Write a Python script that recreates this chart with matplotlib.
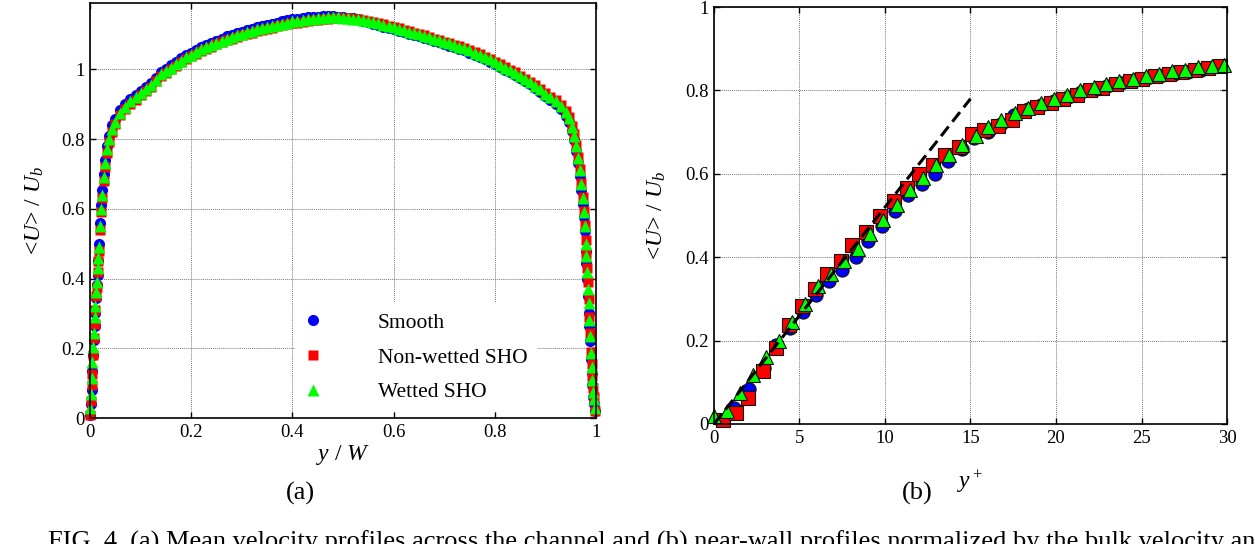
import matplotlib
matplotlib.use("Agg")
import matplotlib.pyplot as plt
from matplotlib.ticker import FuncFormatter, MultipleLocator

# ---- (a) mean velocity across the channel ----
y_over_w = [0.000, 0.0015, 0.003, 0.0045, 0.006, 0.0075, 0.009, 0.0105, 0.012, 0.0135,
            0.015, 0.0165, 0.018, 0.020, 0.022, 0.024, 0.027, 0.030, 0.034, 0.038,
            0.043, 0.050, 0.060, 0.070, 0.080, 0.090,
            0.10, 0.11, 0.12, 0.13, 0.14, 0.15, 0.16, 0.17, 0.18, 0.19,
            0.20, 0.21, 0.22, 0.23, 0.24, 0.25, 0.26, 0.27, 0.28, 0.29,
            0.30, 0.31, 0.32, 0.33, 0.34, 0.35, 0.36, 0.37, 0.38, 0.39,
            0.40, 0.41, 0.42, 0.43, 0.44, 0.45, 0.46, 0.47, 0.48, 0.49,
            0.50, 0.51, 0.52, 0.53, 0.54, 0.55, 0.56, 0.57, 0.58, 0.59,
            0.60, 0.61, 0.62, 0.63, 0.64, 0.65, 0.66, 0.67, 0.68, 0.69,
            0.70, 0.71, 0.72, 0.73, 0.74, 0.75, 0.76, 0.77, 0.78, 0.79,
            0.80, 0.81, 0.82, 0.83, 0.84, 0.85, 0.86, 0.87, 0.88, 0.89,
            0.90,
            0.91, 0.92, 0.93, 0.94, 0.947, 0.953, 0.957, 0.961, 0.965, 0.968,
            0.971, 0.974, 0.976, 0.978,
            0.9795, 0.981, 0.9825, 0.984, 0.9855, 0.987, 0.9885, 0.990, 0.9915, 0.993,
            0.9945, 0.996, 0.9975]

u_smooth = [0.01, 0.04, 0.08, 0.135, 0.18, 0.225, 0.265, 0.30, 0.345, 0.38,
            0.41, 0.45, 0.50, 0.56, 0.61, 0.655, 0.70, 0.74, 0.78, 0.81,
            0.84, 0.858, 0.882, 0.90, 0.914, 0.926,
            0.938, 0.95, 0.961, 0.976, 0.991, 1.001, 1.011, 1.021, 1.031, 1.04,
            1.048, 1.056, 1.063, 1.07, 1.076, 1.082, 1.088, 1.094, 1.099, 1.104,
            1.108, 1.112, 1.116, 1.12, 1.123, 1.127, 1.13, 1.134, 1.137, 1.14,
            1.143, 1.145, 1.147, 1.149, 1.15, 1.151, 1.152, 1.152, 1.152, 1.151,
            1.15, 1.148, 1.146, 1.143, 1.139, 1.135, 1.131, 1.127, 1.122, 1.118,
            1.114, 1.11, 1.106, 1.102, 1.098, 1.094, 1.09, 1.086, 1.081, 1.077,
            1.072, 1.068, 1.063, 1.059, 1.054, 1.048, 1.042, 1.036, 1.029, 1.022,
            1.014, 1.007, 0.999, 0.992, 0.984, 0.975, 0.966, 0.957, 0.947, 0.936,
            0.924,
            0.912, 0.90, 0.885, 0.867, 0.848, 0.822, 0.797, 0.765, 0.73, 0.695,
            0.655, 0.615, 0.575, 0.535,
            0.48, 0.445, 0.40, 0.35, 0.30, 0.265, 0.22, 0.17, 0.13, 0.095,
            0.06, 0.04, 0.02]

u_nonwetted = [0.01, 0.05, 0.095, 0.125, 0.18, 0.23, 0.27, 0.31, 0.35, 0.375,
               0.42, 0.45, 0.48, 0.54, 0.59, 0.63, 0.68, 0.72, 0.76, 0.79,
               0.82, 0.843, 0.868, 0.886, 0.901, 0.913,
               0.927, 0.939, 0.95, 0.965, 0.98, 0.99, 1.0, 1.01, 1.02, 1.029,
               1.037, 1.045, 1.052, 1.059, 1.065, 1.071, 1.077, 1.083, 1.088, 1.093,
               1.097, 1.101, 1.105, 1.109, 1.112, 1.116, 1.119, 1.123, 1.126, 1.129,
               1.132, 1.134, 1.136, 1.138, 1.14, 1.142, 1.144, 1.145, 1.146, 1.146,
               1.148, 1.147, 1.145, 1.143, 1.14, 1.138, 1.136, 1.133, 1.129, 1.125,
               1.121, 1.117, 1.113, 1.109, 1.105, 1.101, 1.097, 1.093, 1.088, 1.084,
               1.079, 1.075, 1.07, 1.066, 1.061, 1.055, 1.049, 1.043, 1.036, 1.029,
               1.021, 1.014, 1.006, 0.999, 0.991, 0.982, 0.973, 0.964, 0.954, 0.943,
               0.931,
               0.921, 0.911, 0.897, 0.88, 0.862, 0.838, 0.813, 0.783, 0.748, 0.713,
               0.673, 0.633, 0.593, 0.553,
               0.51, 0.47, 0.43, 0.39, 0.34, 0.29, 0.245, 0.19, 0.155, 0.12,
               0.085, 0.06, 0.02]

u_wetted = [0.03, 0.07, 0.115, 0.16, 0.205, 0.245, 0.29, 0.32, 0.36, 0.39,
            0.43, 0.46, 0.49, 0.55, 0.60, 0.64, 0.69, 0.73, 0.77, 0.80,
            0.83, 0.85, 0.875, 0.893, 0.908, 0.92,
            0.932, 0.944, 0.955, 0.97, 0.985, 0.995, 1.005, 1.015, 1.025, 1.034,
            1.042, 1.05, 1.057, 1.064, 1.07, 1.076, 1.082, 1.088, 1.093, 1.098,
            1.102, 1.106, 1.11, 1.114, 1.117, 1.121, 1.124, 1.128, 1.131, 1.134,
            1.137, 1.139, 1.141, 1.143, 1.145, 1.147, 1.148, 1.149, 1.149, 1.149,
            1.148, 1.147, 1.145, 1.143, 1.14, 1.138, 1.135, 1.132, 1.128, 1.124,
            1.12, 1.116, 1.112, 1.108, 1.104, 1.1, 1.096, 1.092, 1.087, 1.083,
            1.078, 1.074, 1.069, 1.065, 1.06, 1.054, 1.048, 1.042, 1.035, 1.028,
            1.02, 1.013, 1.005, 0.998, 0.99, 0.981, 0.972, 0.963, 0.953, 0.942,
            0.93,
            0.92, 0.91, 0.895, 0.877, 0.86, 0.835, 0.81, 0.78, 0.745, 0.71,
            0.67, 0.63, 0.59, 0.55,
            0.50, 0.465, 0.42, 0.37, 0.33, 0.28, 0.235, 0.185, 0.145, 0.11,
            0.075, 0.055, 0.03]

# ---- (b) near-wall profile in wall units ----
yplus_smooth = [0.4, 1.2, 2.05, 2.9, 3.65, 4.45, 5.2, 5.95, 6.7, 7.5,
                8.3, 9.0, 9.8, 10.6, 11.35, 12.15, 12.9, 13.7, 14.5, 15.2,
                16.0, 16.8, 17.55, 18.35, 19.1, 19.9, 20.7, 21.45, 22.25, 23.0,
                23.8, 24.6, 25.35, 26.1, 26.9, 27.7, 28.45, 29.2]
uplus_smooth = [0.01, 0.039, 0.084, 0.135, 0.19, 0.23, 0.268, 0.31, 0.343, 0.37,
                0.40, 0.44, 0.475, 0.51, 0.55, 0.575, 0.60, 0.63, 0.66, 0.685,
                0.70, 0.72, 0.74, 0.755, 0.765, 0.775, 0.785, 0.795, 0.80, 0.81,
                0.818, 0.825, 0.83, 0.835, 0.84, 0.845, 0.85, 0.855]

yplus_nonwetted = [0.55, 1.3, 2.0, 2.85, 3.6, 4.4, 5.15, 5.9, 6.6, 7.4,
                   8.1, 8.9, 9.7, 10.5, 11.3, 12.0, 12.8, 13.5, 14.3, 15.1,
                   15.8, 16.6, 17.4, 18.1, 18.9, 19.7, 20.4, 21.2, 22.0, 22.7,
                   23.5, 24.3, 25.0, 25.8, 26.6, 27.3, 28.1, 28.9, 29.6]
uplus_nonwetted = [0.01, 0.026, 0.063, 0.128, 0.183, 0.238, 0.282, 0.323, 0.36, 0.39,
                   0.43, 0.46, 0.50, 0.535, 0.566, 0.60, 0.62, 0.645, 0.665, 0.695,
                   0.705, 0.715, 0.73, 0.75, 0.76, 0.77, 0.78, 0.79, 0.80, 0.806,
                   0.815, 0.823, 0.827, 0.835, 0.84, 0.845, 0.85, 0.853, 0.858]

yplus_wetted = [0.0, 0.75, 1.5, 2.3, 3.05, 3.8, 4.55, 5.35, 6.1, 6.85,
                7.6, 8.4, 9.15, 9.9, 10.7, 11.45, 12.2, 13.0, 13.75, 14.5,
                15.3, 16.05, 16.8, 17.6, 18.35, 19.1, 19.9, 20.65, 21.4, 22.2,
                22.95, 23.7, 24.5, 25.25, 26.0, 26.8, 27.55, 28.3, 29.1, 29.85]
uplus_wetted = [0.02, 0.03, 0.075, 0.118, 0.16, 0.20, 0.245, 0.287, 0.33, 0.36,
                0.39, 0.42, 0.455, 0.49, 0.525, 0.56, 0.59, 0.62, 0.645, 0.668,
                0.69, 0.712, 0.73, 0.745, 0.758, 0.77, 0.78, 0.79, 0.80, 0.807,
                0.815, 0.822, 0.828, 0.834, 0.84, 0.846, 0.85, 0.855, 0.859, 0.862]

# viscous sublayer line
viscous_yplus = [0.0, 15.0]
viscous_u = [0.0, 0.78]

labels = ["Smooth", "Non-wetted SHO", "Wetted SHO"]
caption = ("FIG. 4. (a) Mean velocity profiles across the channel and (b) near-wall "
           "profiles normalized by the bulk velocity and wall units")

plt.rcParams["font.family"] = ["Liberation Serif", "DejaVu Serif"]
plt.rcParams["mathtext.fontset"] = "custom"
plt.rcParams["mathtext.rm"] = "Liberation Serif"
plt.rcParams["mathtext.it"] = "Liberation Serif:italic"

fig = plt.figure(figsize=(12.55, 5.44), dpi=100)
ax1 = fig.add_axes([0.0717, 0.2316, 0.4032, 0.7629])
ax2 = fig.add_axes([0.5689, 0.2206, 0.4088, 0.7665])

fmt = FuncFormatter(lambda v, p: f"{v:g}")


def style_axis(ax):
    ax.set_axisbelow(True)
    ax.grid(True, color="#7a7a7a", linestyle=(0, (1, 1)), linewidth=0.7)
    ax.tick_params(direction="in", top=True, right=True, length=4, width=1,
                   labelsize=13.5, pad=4)
    for s in ax.spines.values():
        s.set_linewidth(1.2)
    ax.xaxis.set_major_formatter(fmt)
    ax.yaxis.set_major_formatter(fmt)


# left panel
ax1.plot(y_over_w, u_smooth, "o", color="#0000ff", ms=8, mec="none",
         label=labels[0], clip_on=False)
ax1.plot(y_over_w, u_nonwetted, "s", color="#ff0000", ms=6.5, mec="none",
         label=labels[1], clip_on=False)
ax1.plot(y_over_w, u_wetted, "^", color="#00ff00", ms=8.5, mec="none",
         label=labels[2], clip_on=False)
ax1.set_xlim(0, 1)
ax1.set_ylim(0, 1.19)
ax1.xaxis.set_major_locator(MultipleLocator(0.2))
ax1.yaxis.set_major_locator(MultipleLocator(0.2))
style_axis(ax1)
ax1.set_xlabel("$y$ / $W$", fontsize=17, labelpad=2)
ax1.set_ylabel("<$U$> / $U_b$", fontsize=17, labelpad=11)
leg = ax1.legend(loc="upper left", bbox_to_anchor=(0.405, 0.277), frameon=True,
                 fancybox=False, edgecolor="none", facecolor="white", framealpha=1,
                 fontsize=15.5, handlelength=0.8, handletextpad=2.6,
                 borderaxespad=0, borderpad=0.45, labelspacing=0.68)
leg.set_zorder(5)

# right panel
ax2.plot(yplus_smooth, uplus_smooth, "o", color="#0000ff", ms=9.5, mec="#111111",
         mew=0.8, clip_on=False)
ax2.plot(yplus_nonwetted, uplus_nonwetted, "s", color="#ff0000", ms=9.5, mec="#111111",
         mew=0.8, clip_on=False)
ax2.plot(yplus_wetted, uplus_wetted, "^", color="#00ff00", ms=10.5, mec="#111111",
         mew=0.8, clip_on=False)
ax2.plot(viscous_yplus, viscous_u, color="black", lw=2.2, linestyle=(0, (4, 2)), zorder=4)
ax2.set_xlim(0, 30)
ax2.set_ylim(0, 1)
ax2.xaxis.set_major_locator(MultipleLocator(5))
ax2.yaxis.set_major_locator(MultipleLocator(0.2))
style_axis(ax2)
ax2.set_xlabel("$y^+$", fontsize=17, labelpad=16)
ax2.set_ylabel("<$U$> / $U_b$", fontsize=17, labelpad=12)

fig.text(300 / 1255, 1 - 493 / 544, "(a)", ha="center", va="center", fontsize=19)
fig.text(917 / 1255, 1 - 493 / 544, "(b)", ha="center", va="center", fontsize=19)
fig.text(48 / 1255, 1 - 531 / 544, caption, ha="left", va="top", fontsize=19)

fig.savefig("out.png", dpi=100)
